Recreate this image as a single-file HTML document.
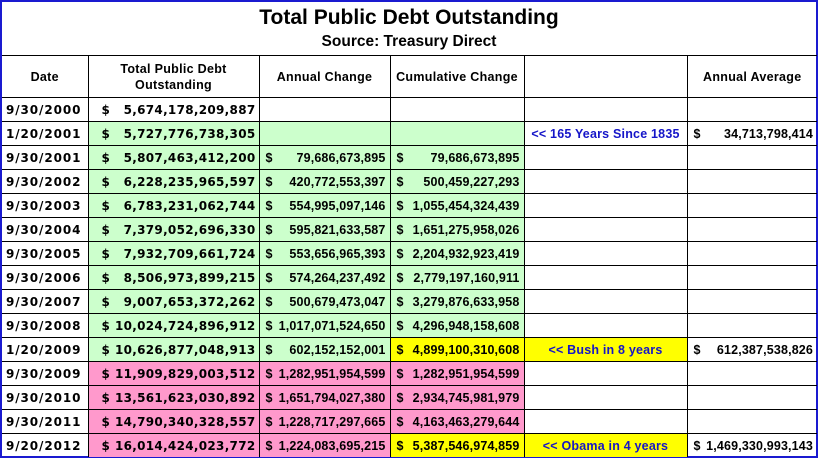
<!DOCTYPE html>
<html><head><style>
body{margin:0;background:#fff}
#w{position:absolute;left:0;top:0;width:814px;height:454px;border:2px solid #1a1ad0;background:#fff;font-family:"Liberation Sans",Arial,sans-serif;font-weight:bold;color:#000}
table{position:absolute;left:0;top:53px;border-collapse:collapse;table-layout:fixed;width:815px}
td{border:1px solid #000;height:23px;padding:0 4px;font-size:12.5px;letter-spacing:0.15px;white-space:nowrap;overflow:hidden}
tr.h td{height:41px;text-align:center;font-size:12.5px;letter-spacing:0.3px;line-height:16px}
td.d{text-align:left;padding-left:4px;font-family:"DejaVu Sans",sans-serif;font-size:12px;letter-spacing:0.9px}
td.c2{font-family:"DejaVu Sans",sans-serif;font-size:12px;letter-spacing:0.3px;padding-right:3px}
.m{display:flex;justify-content:space-between}
.m span:first-child{padding-left:9px}
.c3 .m span:first-child,.c4 .m span:first-child,.c6 .m span:first-child{padding-left:2px}
.g{background:#ccffcc}.p{background:#ff99cc}.y{background:#ffff00}
.b{color:#1515c8;text-align:center;letter-spacing:0.2px;font-size:12.5px}
td:first-child{border-left:none}td:last-child{border-right:none}
tr:last-child td{border-bottom:none}
</style></head><body><div id="w">
<div style="position:absolute;top:4px;width:100%;text-align:center;font-size:21px">Total Public Debt Outstanding</div>
<div style="position:absolute;top:31px;width:100%;text-align:center;font-size:15.5px">Source: Treasury Direct</div>
<table>
<colgroup><col style="width:86px"><col style="width:171px"><col style="width:131px"><col style="width:134px"><col style="width:163px"><col style="width:130px"></colgroup>
<tr class="h"><td>Date</td><td>Total Public Debt<br>Outstanding</td><td>Annual Change</td><td>Cumulative Change</td><td></td><td>Annual Average</td></tr>
<tr><td class="d">9/30/2000</td><td class="c2"><div class="m"><span>$</span><span>5,674,178,209,887</span></div></td><td></td><td></td><td></td><td></td></tr>
<tr><td class="d">1/20/2001</td><td class="g c2"><div class="m"><span>$</span><span>5,727,776,738,305</span></div></td><td class="g"></td><td class="g"></td><td class="b">&lt;&lt; 165 Years Since 1835</td><td class="c6"><div class="m"><span>$</span><span>34,713,798,414</span></div></td></tr>
<tr><td class="d">9/30/2001</td><td class="g c2"><div class="m"><span>$</span><span>5,807,463,412,200</span></div></td><td class="g c3"><div class="m"><span>$</span><span>79,686,673,895</span></div></td><td class="g c4"><div class="m"><span>$</span><span>79,686,673,895</span></div></td><td></td><td></td></tr>
<tr><td class="d">9/30/2002</td><td class="g c2"><div class="m"><span>$</span><span>6,228,235,965,597</span></div></td><td class="g c3"><div class="m"><span>$</span><span>420,772,553,397</span></div></td><td class="g c4"><div class="m"><span>$</span><span>500,459,227,293</span></div></td><td></td><td></td></tr>
<tr><td class="d">9/30/2003</td><td class="g c2"><div class="m"><span>$</span><span>6,783,231,062,744</span></div></td><td class="g c3"><div class="m"><span>$</span><span>554,995,097,146</span></div></td><td class="g c4"><div class="m"><span>$</span><span>1,055,454,324,439</span></div></td><td></td><td></td></tr>
<tr><td class="d">9/30/2004</td><td class="g c2"><div class="m"><span>$</span><span>7,379,052,696,330</span></div></td><td class="g c3"><div class="m"><span>$</span><span>595,821,633,587</span></div></td><td class="g c4"><div class="m"><span>$</span><span>1,651,275,958,026</span></div></td><td></td><td></td></tr>
<tr><td class="d">9/30/2005</td><td class="g c2"><div class="m"><span>$</span><span>7,932,709,661,724</span></div></td><td class="g c3"><div class="m"><span>$</span><span>553,656,965,393</span></div></td><td class="g c4"><div class="m"><span>$</span><span>2,204,932,923,419</span></div></td><td></td><td></td></tr>
<tr><td class="d">9/30/2006</td><td class="g c2"><div class="m"><span>$</span><span>8,506,973,899,215</span></div></td><td class="g c3"><div class="m"><span>$</span><span>574,264,237,492</span></div></td><td class="g c4"><div class="m"><span>$</span><span>2,779,197,160,911</span></div></td><td></td><td></td></tr>
<tr><td class="d">9/30/2007</td><td class="g c2"><div class="m"><span>$</span><span>9,007,653,372,262</span></div></td><td class="g c3"><div class="m"><span>$</span><span>500,679,473,047</span></div></td><td class="g c4"><div class="m"><span>$</span><span>3,279,876,633,958</span></div></td><td></td><td></td></tr>
<tr><td class="d">9/30/2008</td><td class="g c2"><div class="m"><span>$</span><span>10,024,724,896,912</span></div></td><td class="g c3"><div class="m"><span>$</span><span>1,017,071,524,650</span></div></td><td class="g c4"><div class="m"><span>$</span><span>4,296,948,158,608</span></div></td><td></td><td></td></tr>
<tr><td class="d">1/20/2009</td><td class="g c2"><div class="m"><span>$</span><span>10,626,877,048,913</span></div></td><td class="g c3"><div class="m"><span>$</span><span>602,152,152,001</span></div></td><td class="y c4"><div class="m"><span>$</span><span>4,899,100,310,608</span></div></td><td class="b y">&lt;&lt; Bush in 8 years</td><td class="c6"><div class="m"><span>$</span><span>612,387,538,826</span></div></td></tr>
<tr><td class="d">9/30/2009</td><td class="p c2"><div class="m"><span>$</span><span>11,909,829,003,512</span></div></td><td class="p c3"><div class="m"><span>$</span><span>1,282,951,954,599</span></div></td><td class="p c4"><div class="m"><span>$</span><span>1,282,951,954,599</span></div></td><td></td><td></td></tr>
<tr><td class="d">9/30/2010</td><td class="p c2"><div class="m"><span>$</span><span>13,561,623,030,892</span></div></td><td class="p c3"><div class="m"><span>$</span><span>1,651,794,027,380</span></div></td><td class="p c4"><div class="m"><span>$</span><span>2,934,745,981,979</span></div></td><td></td><td></td></tr>
<tr><td class="d">9/30/2011</td><td class="p c2"><div class="m"><span>$</span><span>14,790,340,328,557</span></div></td><td class="p c3"><div class="m"><span>$</span><span>1,228,717,297,665</span></div></td><td class="p c4"><div class="m"><span>$</span><span>4,163,463,279,644</span></div></td><td></td><td></td></tr>
<tr><td class="d">9/20/2012</td><td class="p c2"><div class="m"><span>$</span><span>16,014,424,023,772</span></div></td><td class="p c3"><div class="m"><span>$</span><span>1,224,083,695,215</span></div></td><td class="y c4"><div class="m"><span>$</span><span>5,387,546,974,859</span></div></td><td class="b y">&lt;&lt; Obama in 4 years</td><td class="c6"><div class="m"><span>$</span><span>1,469,330,993,143</span></div></td></tr>
</table></div></body></html>
